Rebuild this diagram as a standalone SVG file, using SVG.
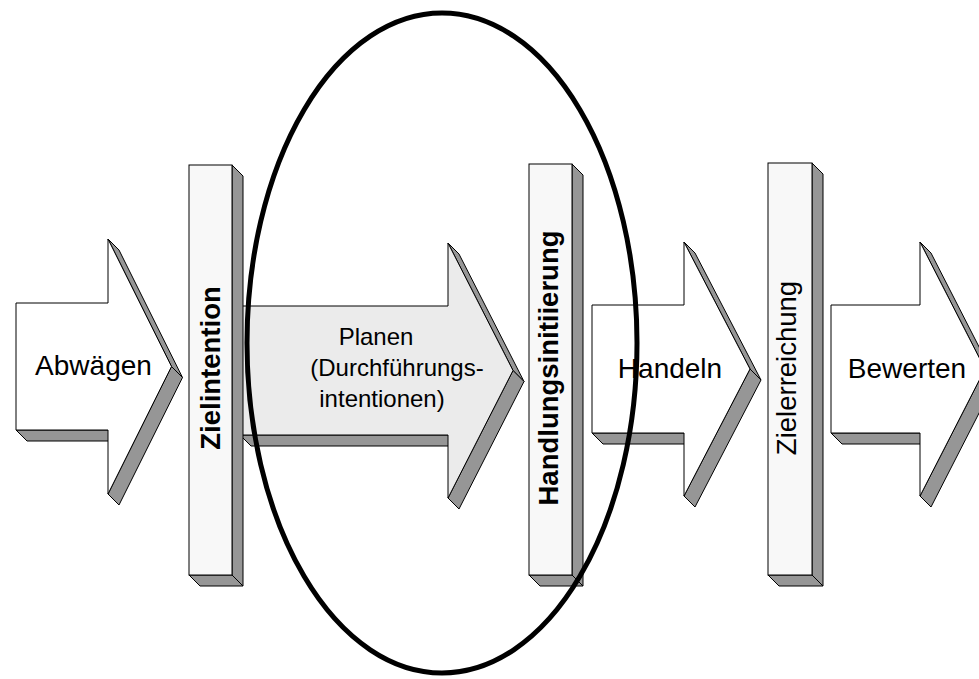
<svg xmlns="http://www.w3.org/2000/svg" width="979" height="679" viewBox="0 0 979 679">
<style>
.front{fill:#ffffff;stroke:#000;stroke-width:1;stroke-linejoin:round}
.front.planen{fill:#ebebeb}
.side{fill:#969696;stroke:#000;stroke-width:1;stroke-linejoin:round}
.barf{fill:#f8f8f8;stroke:#000;stroke-width:1}
.lbl{font-family:"Liberation Sans",Arial,sans-serif;font-size:28px;fill:#000;text-anchor:middle}
.plan{font-size:24px}
.vb{font-family:"Liberation Sans",Arial,sans-serif;font-size:27.5px;font-weight:bold;fill:#000;text-anchor:middle}
.vr{font-family:"Liberation Sans",Arial,sans-serif;font-size:27.5px;fill:#000;text-anchor:middle}
.oval{fill:none;stroke:#000;stroke-width:5}
</style>
<rect width="979" height="679" fill="#ffffff"/>

<g id="abwaegen">
<polygon class="side" points="108,239 171.5,366.5 182.5,377.5 119,250"/>
<polygon class="side" points="171.5,366.5 108,494 119,505 182.5,377.5"/>
<polygon class="side" points="16,430 108,430 119,441 27,441"/>
<polygon class="front" points="16,303 108,303 108,239 171.5,366.5 108,494 108,430 16,430"/>
<text class="lbl" x="93.5" y="375">Abwägen</text>
</g>

<g id="planen">
<polygon class="side" points="448,243 513,370.5 524,381.5 459,254"/>
<polygon class="side" points="513,370.5 448,498 459,509 524,381.5"/>
<polygon class="side" points="240,435 448,435 459,446 251,446"/>
<polygon class="front planen" points="240,306 448,306 448,243 513,370.5 448,498 448,435 240,435"/>
<text class="lbl plan" x="376" y="345">Planen</text>
<text class="lbl plan" x="397" y="376">(Durchführungs-</text>
<text class="lbl plan" x="382" y="407">intentionen)</text>
</g>

<g id="handeln">
<polygon class="side" points="684,242 750,369 761,380 695,253"/>
<polygon class="side" points="750,369 684,496 695,507 761,380"/>
<polygon class="side" points="592,433 684,433 695,444 603,444"/>
<polygon class="front" points="592,305 684,305 684,242 750,369 684,496 684,433 592,433"/>
<text class="lbl" x="670" y="378">Handeln</text>
</g>

<g id="bewerten">
<polygon class="side" points="920,242 985,369 996,380 931,253"/>
<polygon class="side" points="985,369 920,496 931,507 996,380"/>
<polygon class="side" points="831,433 920,433 931,444 842,444"/>
<polygon class="front" points="831,305 920,305 920,242 985,369 920,496 920,433 831,433"/>
<text class="lbl" x="907" y="378">Bewerten</text>
</g>

<g id="zielintention">
<polygon class="side" points="232,165 243,176 243,586 232,575"/>
<polygon class="side" points="189,575 232,575 243,586 200,586"/>
<rect class="barf" x="189" y="165" width="43" height="410"/>
<text class="vb" transform="translate(220,368) rotate(-90)">Zielintention</text>
</g>

<g id="handlungsinitiierung">
<polygon class="side" points="572,164 583,175 583,586 572,575"/>
<polygon class="side" points="529,575 572,575 583,586 540,586"/>
<rect class="barf" x="529" y="164" width="43" height="411"/>
<text class="vb" transform="translate(558,368) rotate(-90)">Handlungsinitiierung</text>
</g>

<g id="zielerreichung">
<polygon class="side" points="812,163 823,174 823,586 812,575"/>
<polygon class="side" points="768,575 812,575 823,586 779,586"/>
<rect class="barf" x="768" y="163" width="44" height="412"/>
<text class="vr" transform="translate(796,368) rotate(-90)">Zielerreichung</text>
</g>

<g id="connectors">
<ellipse id="focus" class="oval" cx="442" cy="343" rx="195" ry="330"/>
</g>
</svg>
